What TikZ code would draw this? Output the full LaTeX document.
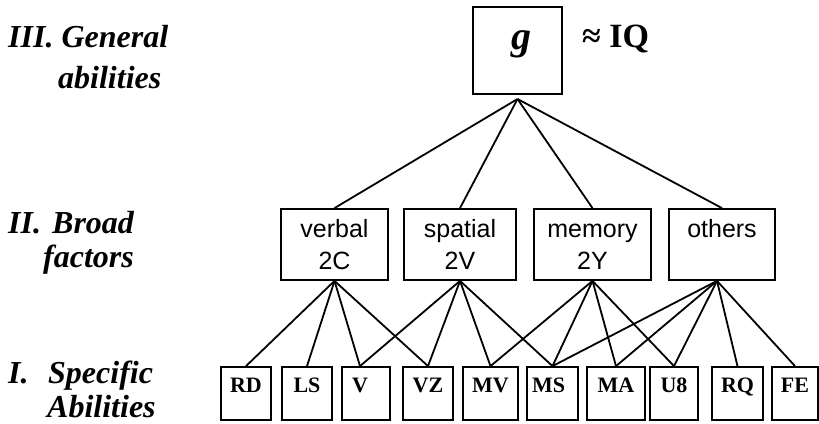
\documentclass[tikz,border=0pt]{standalone}
\usepackage{fontspec}
\setmainfont{Liberation Serif}
\newfontfamily\sansf{Liberation Sans}
\begin{document}
\begin{tikzpicture}[x=1pt,y=-1pt,
  box/.style={draw, line width=1.8pt, inner sep=0pt},
  lbl/.style={font=\fontsize{32}{32}\selectfont\bfseries\itshape, anchor=base west, inner sep=0pt},
  broad/.style={box, minimum height=71pt},
  btext/.style={font=\sansf\fontsize{25}{25}\selectfont, anchor=base, inner sep=0pt},
  spec/.style={box, minimum height=53pt, text height=15pt, text depth=18pt, font=\fontsize{22}{22}\selectfont\bfseries},
  link/.style={line width=1.8pt}]
\useasboundingbox (0,0) rectangle (819,423);

% level labels
\node[lbl] (l3a) at (8,47) {III. General};
\node[lbl] (l3b) at (58,88) {abilities};
\node[lbl] (l2a) at (8,233) {\makebox[44pt][l]{II.}Broad};
\node[lbl] (l2b) at (43,267) {factors};
\node[lbl] (l1a) at (8,383) {\makebox[40pt][l]{I.}Specific};
\node[lbl] (l1b) at (47,417) {Abilities};

% general
\node[box, line width=2pt, minimum width=89pt, minimum height=87pt] (g) at (517.5,50.5) {};
\node[font=\fontsize{40}{40}\selectfont\bfseries\itshape, anchor=base, inner sep=0pt] (gl) at (521,49) {g};
\node[font=\fontsize{34}{34}\selectfont\bfseries, anchor=base west, inner sep=0pt] (iq) at (582,47) {≈ IQ};

% broad factors
\node[broad, minimum width=107pt] (verbal) at (334.5,244.5) {};
\node[broad, minimum width=112pt] (spatial) at (460,244.5) {};
\node[broad, minimum width=117pt] (memory) at (592.5,244.5) {};
\node[broad, minimum width=106pt] (others) at (722,244.5) {};
\node[btext] (verbal1) at ([yshift=-29pt]verbal.north) {verbal};
\node[btext] (verbal2) at ([yshift=-61pt]verbal.north) {2C};
\node[btext] (spatial1) at ([yshift=-29pt]spatial.north) {spatial};
\node[btext] (spatial2) at ([yshift=-61pt]spatial.north) {2V};
\node[btext] (memory1) at ([yshift=-29pt]memory.north) {memory};
\node[btext] (memory2) at ([yshift=-61pt]memory.north) {2Y};
\node[btext] (others1) at ([yshift=-29pt]others.north) {others};

% specific abilities
\node[spec, minimum width=50pt] (RD) at (246,393.5) {RD};
\node[spec, minimum width=50pt] (LS) at (307,393.5) {LS};
\node[spec, minimum width=48pt] (V) at (366,393.5) {\hspace*{-12pt}V};
\node[spec, minimum width=50pt] (VZ) at (428,393.5) {VZ};
\node[spec, minimum width=55pt] (MV) at (490.5,393.5) {MV};
\node[spec, minimum width=51pt] (MS) at (552.5,393.5) {\hspace*{-8pt}MS};
\node[spec, minimum width=58pt] (MA) at (616,393.5) {MA};
\node[spec, minimum width=48pt] (U8) at (674,393.5) {U8};
\node[spec, minimum width=51pt] (RQ) at (737.5,393.5) {RQ};
\node[spec, minimum width=46pt] (FE) at (795,393.5) {FE};

% g to broad
\foreach \b in {verbal,spatial,memory,others}
  \draw[link] ([yshift=-4pt]g.south) -- (\b.north);

% broad to specific
\foreach \s in {RD,LS,VZ}
  \draw[link] (verbal.south) -- (\s.north);
\draw[link] (verbal.south) -- ([xshift=-6pt]V.north);
\draw[link] (spatial.south) -- ([xshift=-6pt]V.north);
\foreach \s in {VZ,MV,MS}
  \draw[link] (spatial.south) -- (\s.north);
\foreach \s in {MV,MS,MA,U8}
  \draw[link] (memory.south) -- (\s.north);
\foreach \s in {MS,MA,U8,RQ,FE}
  \draw[link] ([xshift=-5pt]others.south) -- (\s.north);
\end{tikzpicture}
\end{document}
